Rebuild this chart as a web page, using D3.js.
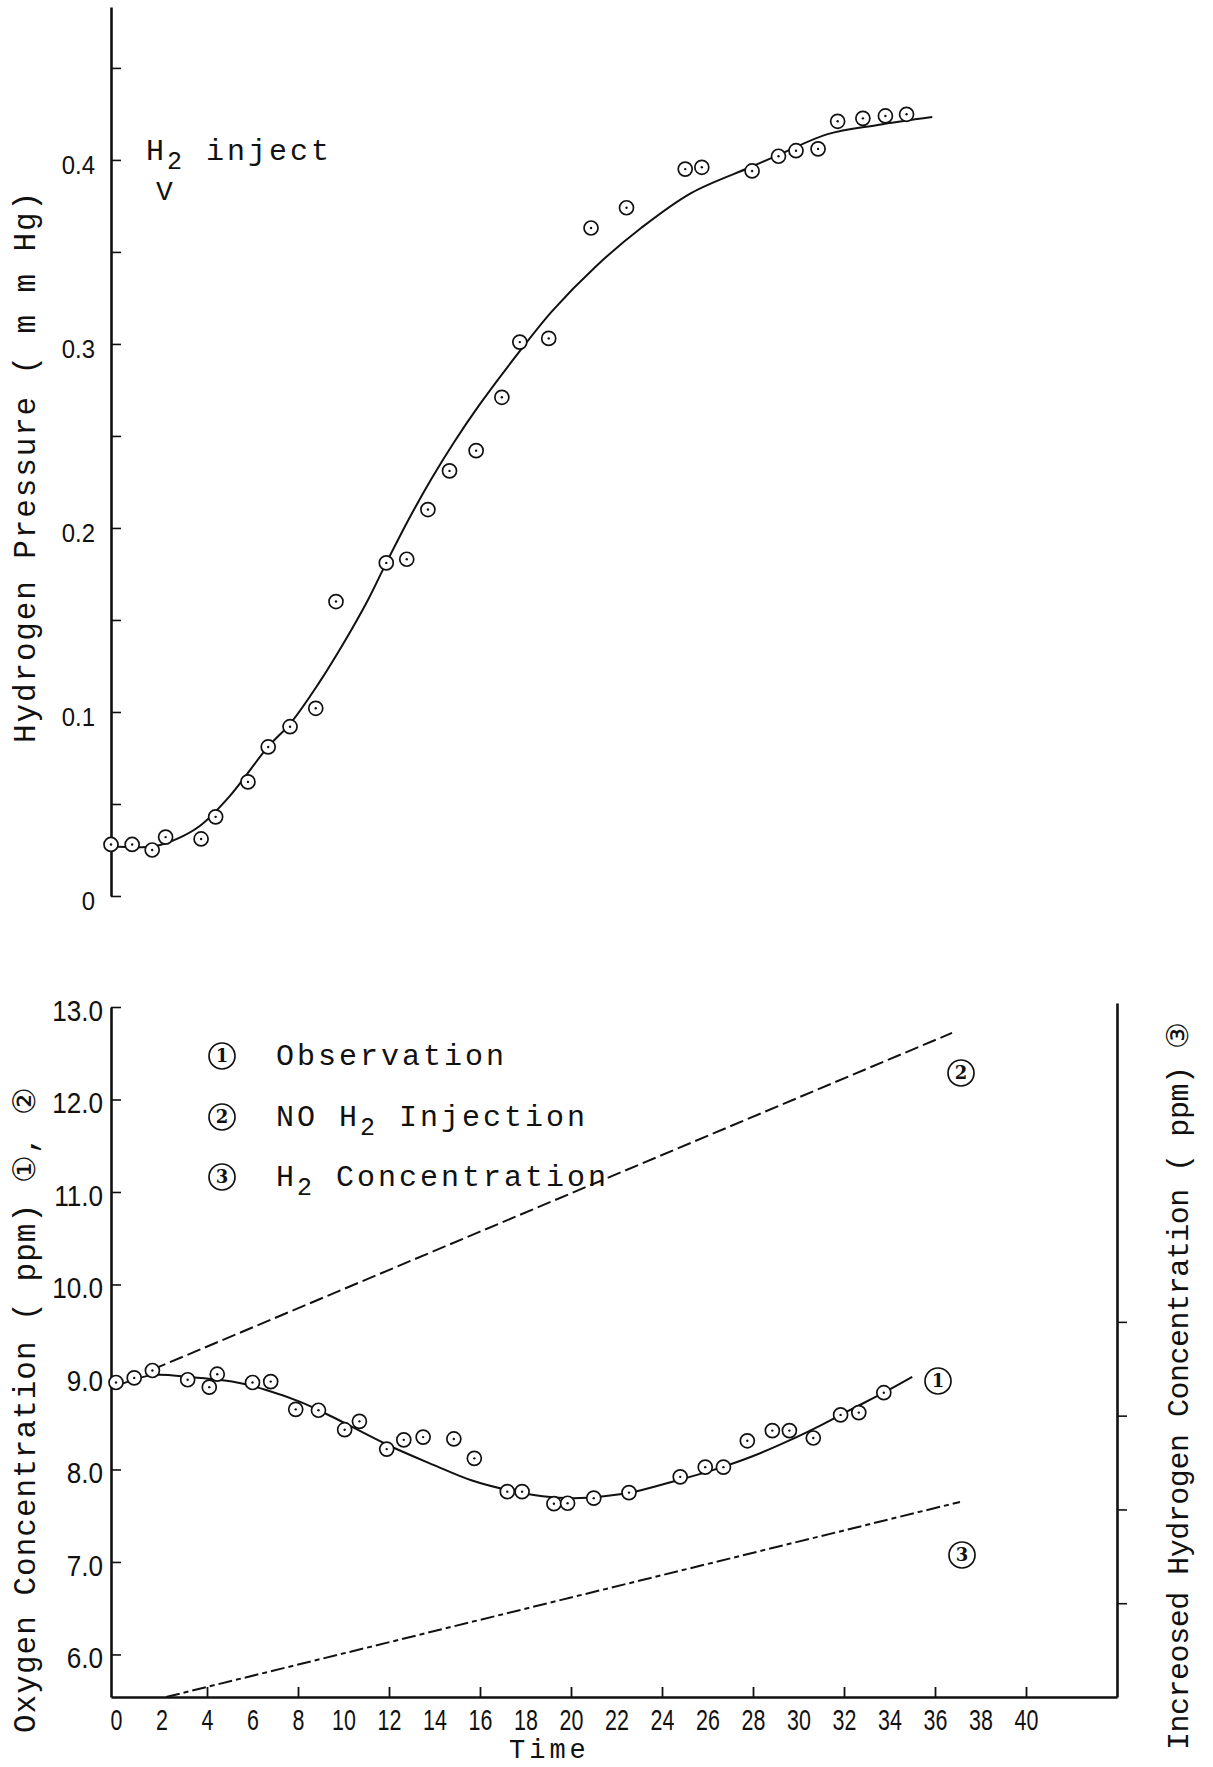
<!DOCTYPE html>
<html><head><meta charset="utf-8">
<script src="https://cdn.jsdelivr.net/npm/d3@7"></script>
<style>
html,body{margin:0;padding:0;background:#fff;}
svg{display:block;}
</style></head><body>
<svg id="chart" width="1213" height="1767"></svg>
<script>
// ---------- DATA ----------
// Top panel: hydrogen pressure (mm Hg) vs time
const h2Time = [0, 0.93, 1.81, 2.4, 3.96, 4.6, 6.02, 6.91, 7.87, 9.0, 9.89, 12.1, 13.0, 13.93, 14.88, 16.05, 17.18, 17.97, 19.24, 21.1, 22.66, 25.24, 25.97, 28.18, 29.34, 30.11, 31.08, 31.94, 33.05, 34.04, 34.97];
const h2Pressure = [0.028, 0.028, 0.025, 0.032, 0.031, 0.043, 0.062, 0.081, 0.092, 0.102, 0.160, 0.181, 0.183, 0.210, 0.231, 0.242, 0.271, 0.301, 0.303, 0.363, 0.374, 0.395, 0.396, 0.394, 0.402, 0.405, 0.406, 0.421, 0.4226, 0.4239, 0.4248];
const h2FitTime = [0, 1.9, 2.9, 3.9, 5.2, 6.9, 7.9, 9.1, 10.3, 11.3, 12.1, 13.1, 14.1, 15.1, 16.2, 17.9, 19.4, 21.3, 23.3, 25.5, 28.1, 29.4, 31.5, 33.7, 36.1];
const h2FitPressure = [0.027, 0.027, 0.031, 0.038, 0.054, 0.081, 0.094, 0.115, 0.139, 0.161, 0.181, 0.205, 0.227, 0.247, 0.267, 0.295, 0.318, 0.342, 0.363, 0.382, 0.396, 0.403, 0.414, 0.419, 0.4233];
const pressureTicks = [0, 0.05, 0.1, 0.15, 0.2, 0.25, 0.3, 0.35, 0.4, 0.45];
const pressureLabelValues = [0, 0.1, 0.2, 0.3, 0.4];
const pressureLabels = ["0", "0.1", "0.2", "0.3", "0.4"];

// Bottom panel: oxygen concentration (ppm) vs time
const obsTime = [0.0, 0.8, 1.6, 3.15, 4.1, 4.45, 6.0, 6.8, 7.9, 8.9, 10.05, 10.7, 11.9, 12.65, 13.5, 14.85, 15.75, 17.2, 17.85, 19.25, 19.85, 21.0, 22.55, 24.8, 25.9, 26.7, 27.75, 28.85, 29.6, 30.65, 31.85, 32.65, 33.75];
const obsO2 = [8.94, 8.99, 9.07, 8.97, 8.89, 9.03, 8.94, 8.95, 8.65, 8.64, 8.43, 8.52, 8.22, 8.32, 8.35, 8.33, 8.12, 7.76, 7.76, 7.63, 7.635, 7.69, 7.75, 7.92, 8.025, 8.025, 8.31, 8.42, 8.42, 8.34, 8.59, 8.615, 8.83];
const obsFitTime = [0, 1.6, 3.2, 5.1, 6.6, 8.1, 9.5, 11.9, 13.95, 15.65, 17.35, 18.75, 20.1, 21.45, 22.8, 24.5, 26.2, 27.95, 29.65, 31.0, 32.4, 33.75, 35.0];
const obsFitO2 = [8.9, 9.02, 9.0, 8.95, 8.86, 8.73, 8.57, 8.27, 8.05, 7.88, 7.77, 7.71, 7.69, 7.71, 7.76, 7.87, 7.99, 8.14, 8.32, 8.48, 8.66, 8.83, 9.0];
const noInjTime = [1.6, 36.75];
const noInjO2 = [9.08, 12.72];
const h2ConcTime = [2.2, 37.1];
const h2ConcPpm = [0, 2.08];
const o2Ticks = [6, 7, 8, 9, 10, 11, 12, 13];
const o2Labels = ["6.0", "7.0", "8.0", "9.0", "10.0", "11.0", "12.0", "13.0"];
const h2ConcTicks = [1, 2, 3, 4];
const timeTickMarks = [4, 8, 12, 16, 20, 24, 28, 32, 36, 40];
const timeLabelValues = [0, 2, 4, 6, 8, 10, 12, 14, 16, 18, 20, 22, 24, 26, 28, 30, 32, 34, 36, 38, 40];
const legendNums = ["1", "2", "3"];

// ---------- DRAW ----------
(function () {
const svg = d3.select("#chart");
const mono = "'Liberation Mono','DejaVu Sans Mono',monospace";
const numFont = "'Liberation Sans','DejaVu Sans',sans-serif";
const ink = "#111";

const xTop = d3.scaleLinear().domain([0, 44.22]).range([111, 1117]);
const yP = d3.scaleLinear().domain([0, 0.4831]).range([896, 7]);
const xB = d3.scaleLinear().domain([-0.22, 44]).range([111, 1117]);
const yO = d3.scaleLinear().domain([5.54, 13]).range([1697, 1007]);
const yC = d3.scaleLinear().domain([0, 7.4]).range([1697, 1003]);

function circled(g, cx, cy, label) {
  g.append("circle").attr("cx", cx).attr("cy", cy).attr("r", 13)
    .attr("fill", "#fff").attr("stroke", ink).attr("stroke-width", 1.7);
  g.append("text").attr("x", cx).attr("y", cy).attr("dy", "0.36em")
    .attr("text-anchor", "middle").attr("font-family", "'DejaVu Serif',serif")
    .attr("font-weight", "bold").attr("font-size", 18).attr("fill", ink).text(label);
}

// ===== TOP PANEL =====
const topG = svg.append("g");
const axP = d3.axisLeft(yP).tickValues(pressureTicks).tickSize(-10).tickSizeOuter(0).tickFormat("");
const gP = topG.append("g").attr("transform", "translate(111,0)").call(axP);
gP.select(".domain").attr("stroke", ink).attr("stroke-width", 2.6);
gP.selectAll(".tick line").attr("stroke", ink).attr("stroke-width", 1.6);

const gPL = topG.append("g").attr("transform", "translate(111,0)")
  .call(d3.axisLeft(yP).tickValues(pressureLabelValues).tickSize(0)
    .tickFormat((d, i) => pressureLabels[i]));
gPL.select(".domain").remove();
gPL.selectAll("text").attr("font-family", numFont).attr("font-size", 26).attr("fill", ink)
  .attr("x", -16 / 0.92).attr("dy", "0.52em").attr("transform", "scale(0.92,1)");

const h2Line = d3.line().curve(d3.curveCatmullRom.alpha(0.5))
  .x(i => xTop(h2FitTime[i])).y(i => yP(h2FitPressure[i]));
topG.append("path").attr("d", h2Line(d3.range(h2FitTime.length)))
  .attr("fill", "none").attr("stroke", ink).attr("stroke-width", 2);

const h2Pts = topG.append("g").selectAll("g").data(d3.range(h2Time.length)).join("g")
  .attr("transform", i => `translate(${xTop(h2Time[i])},${yP(h2Pressure[i])})`);
h2Pts.append("circle").attr("r", 7).attr("fill", "#fff").attr("stroke", ink).attr("stroke-width", 1.7);
h2Pts.append("circle").attr("r", 1.2).attr("fill", ink);

const ann = topG.append("text").attr("x", 146).attr("y", 160).attr("font-family", mono)
  .attr("font-size", 30).attr("letter-spacing", 3).attr("fill", ink);
ann.append("tspan").text("H");
ann.append("tspan").attr("dy", 9).attr("font-size", 25).text("2");
ann.append("tspan").attr("dy", -9).text(" inject");
topG.append("text").attr("x", 156).attr("y", 200).attr("font-family", mono)
  .attr("font-size", 28).attr("fill", ink).text("V");

topG.append("text").attr("transform", "translate(35,743) rotate(-90)")
  .attr("font-family", mono).attr("font-size", 31).attr("fill", ink)
  .attr("textLength", 551).attr("lengthAdjust", "spacing")
  .text("Hydrogen Pressure ( m m Hg)");

// ===== BOTTOM PANEL =====
const botG = svg.append("g");
const axO = d3.axisLeft(yO).tickValues(o2Ticks).tickSize(-10).tickSizeOuter(0).tickFormat("");
const gO = botG.append("g").attr("transform", "translate(111,0)").call(axO);
gO.select(".domain").attr("stroke", ink).attr("stroke-width", 2.6);
gO.selectAll(".tick line").attr("stroke", ink).attr("stroke-width", 1.6);
const gOL = botG.append("g").attr("transform", "translate(111,0)")
  .call(d3.axisLeft(yO).tickValues(o2Ticks).tickSize(0).tickFormat((d, i) => o2Labels[i]));
gOL.select(".domain").remove();
gOL.selectAll("text").attr("font-family", numFont).attr("font-size", 29).attr("fill", ink)
  .attr("x", -8 / 0.9).attr("dy", "0.46em").attr("transform", "scale(0.9,1)");

// right axis
const axC = d3.axisRight(yC).tickValues(h2ConcTicks).tickSize(10).tickSizeOuter(0).tickFormat("");
const gC = botG.append("g").attr("transform", "translate(1117,0)").call(axC);
gC.select(".domain").attr("stroke", ink).attr("stroke-width", 2.6);
gC.selectAll(".tick line").attr("stroke", ink).attr("stroke-width", 1.6);

// bottom axis
const axT = d3.axisBottom(xB).tickValues(timeTickMarks).tickSize(-10).tickSizeOuter(0).tickFormat("");
const gT = botG.append("g").attr("transform", "translate(0,1697)").call(axT);
gT.select(".domain").attr("stroke", ink).attr("stroke-width", 2.6);
gT.selectAll(".tick line").attr("stroke", ink).attr("stroke-width", 1.8);
const gTL = botG.append("g").attr("transform", "translate(0,1697)")
  .call(d3.axisBottom(xB).tickValues(timeLabelValues).tickSize(0).tickPadding(12).tickFormat(d => String(d)));
gTL.select(".domain").remove();
gTL.selectAll("text").attr("font-family", numFont).attr("font-size", 29).attr("fill", ink)
  .attr("transform", "scale(0.74,1)");

// lines
const lineNo = d3.line().x(i => xB(noInjTime[i])).y(i => yO(noInjO2[i]));
botG.append("path").attr("d", lineNo(d3.range(noInjTime.length)))
  .attr("fill", "none").attr("stroke", ink).attr("stroke-width", 2).attr("stroke-dasharray", "14,5");
const lineC = d3.line().x(i => xB(h2ConcTime[i])).y(i => yC(h2ConcPpm[i]));
botG.append("path").attr("d", lineC(d3.range(h2ConcTime.length)))
  .attr("fill", "none").attr("stroke", ink).attr("stroke-width", 2).attr("stroke-dasharray", "14,4,5,4");
const lineObs = d3.line().curve(d3.curveCatmullRom.alpha(0.5))
  .x(i => xB(obsFitTime[i])).y(i => yO(obsFitO2[i]));
botG.append("path").attr("d", lineObs(d3.range(obsFitTime.length)))
  .attr("fill", "none").attr("stroke", ink).attr("stroke-width", 2);

const oPts = botG.append("g").selectAll("g").data(d3.range(obsTime.length)).join("g")
  .attr("transform", i => `translate(${xB(obsTime[i])},${yO(obsO2[i])})`);
oPts.append("circle").attr("r", 7).attr("fill", "#fff").attr("stroke", ink).attr("stroke-width", 1.7);
oPts.append("circle").attr("r", 1.2).attr("fill", ink);

// series labels in plot
circled(botG, 938, 1381, legendNums[0]);
circled(botG, 961, 1073, legendNums[1]);
circled(botG, 962, 1555, legendNums[2]);

// legend
const leg = botG.append("g");
const legY = [1065, 1126, 1186];
legY.forEach((y, i) => circled(leg, 222, y - 9, legendNums[i]));
function legText(y) {
  return leg.append("text").attr("x", 276).attr("y", y).attr("font-family", mono)
    .attr("font-size", 30).attr("letter-spacing", 3).attr("fill", ink);
}
legText(legY[0]).text("Observation");
const l2 = legText(legY[1]);
l2.append("tspan").text("NO H");
l2.append("tspan").attr("dy", 9).attr("font-size", 25).text("2");
l2.append("tspan").attr("dy", -9).text(" Injection");
const l3 = legText(legY[2]);
l3.append("tspan").text("H");
l3.append("tspan").attr("dy", 9).attr("font-size", 25).text("2");
l3.append("tspan").attr("dy", -9).text(" Concentration");

// axis titles
botG.append("text").attr("transform", "translate(35,1733) rotate(-90)")
  .attr("font-family", mono).attr("font-size", 31).attr("fill", ink)
  .attr("textLength", 646).attr("lengthAdjust", "spacing")
  .text("Oxygen Concentration ( ppm) \u2460, \u2461");
botG.append("text").attr("transform", "translate(1188,1750) rotate(-90)")
  .attr("font-family", mono).attr("font-size", 30).attr("fill", ink)
  .attr("textLength", 728).attr("lengthAdjust", "spacing")
  .text("Increosed Hydrogen Concentration ( ppm) \u2462");
botG.append("text").attr("x", 509).attr("y", 1758).attr("font-family", mono)
  .attr("font-size", 27).attr("letter-spacing", 4).attr("fill", ink).text("Time");
})();
</script>
</body></html>
